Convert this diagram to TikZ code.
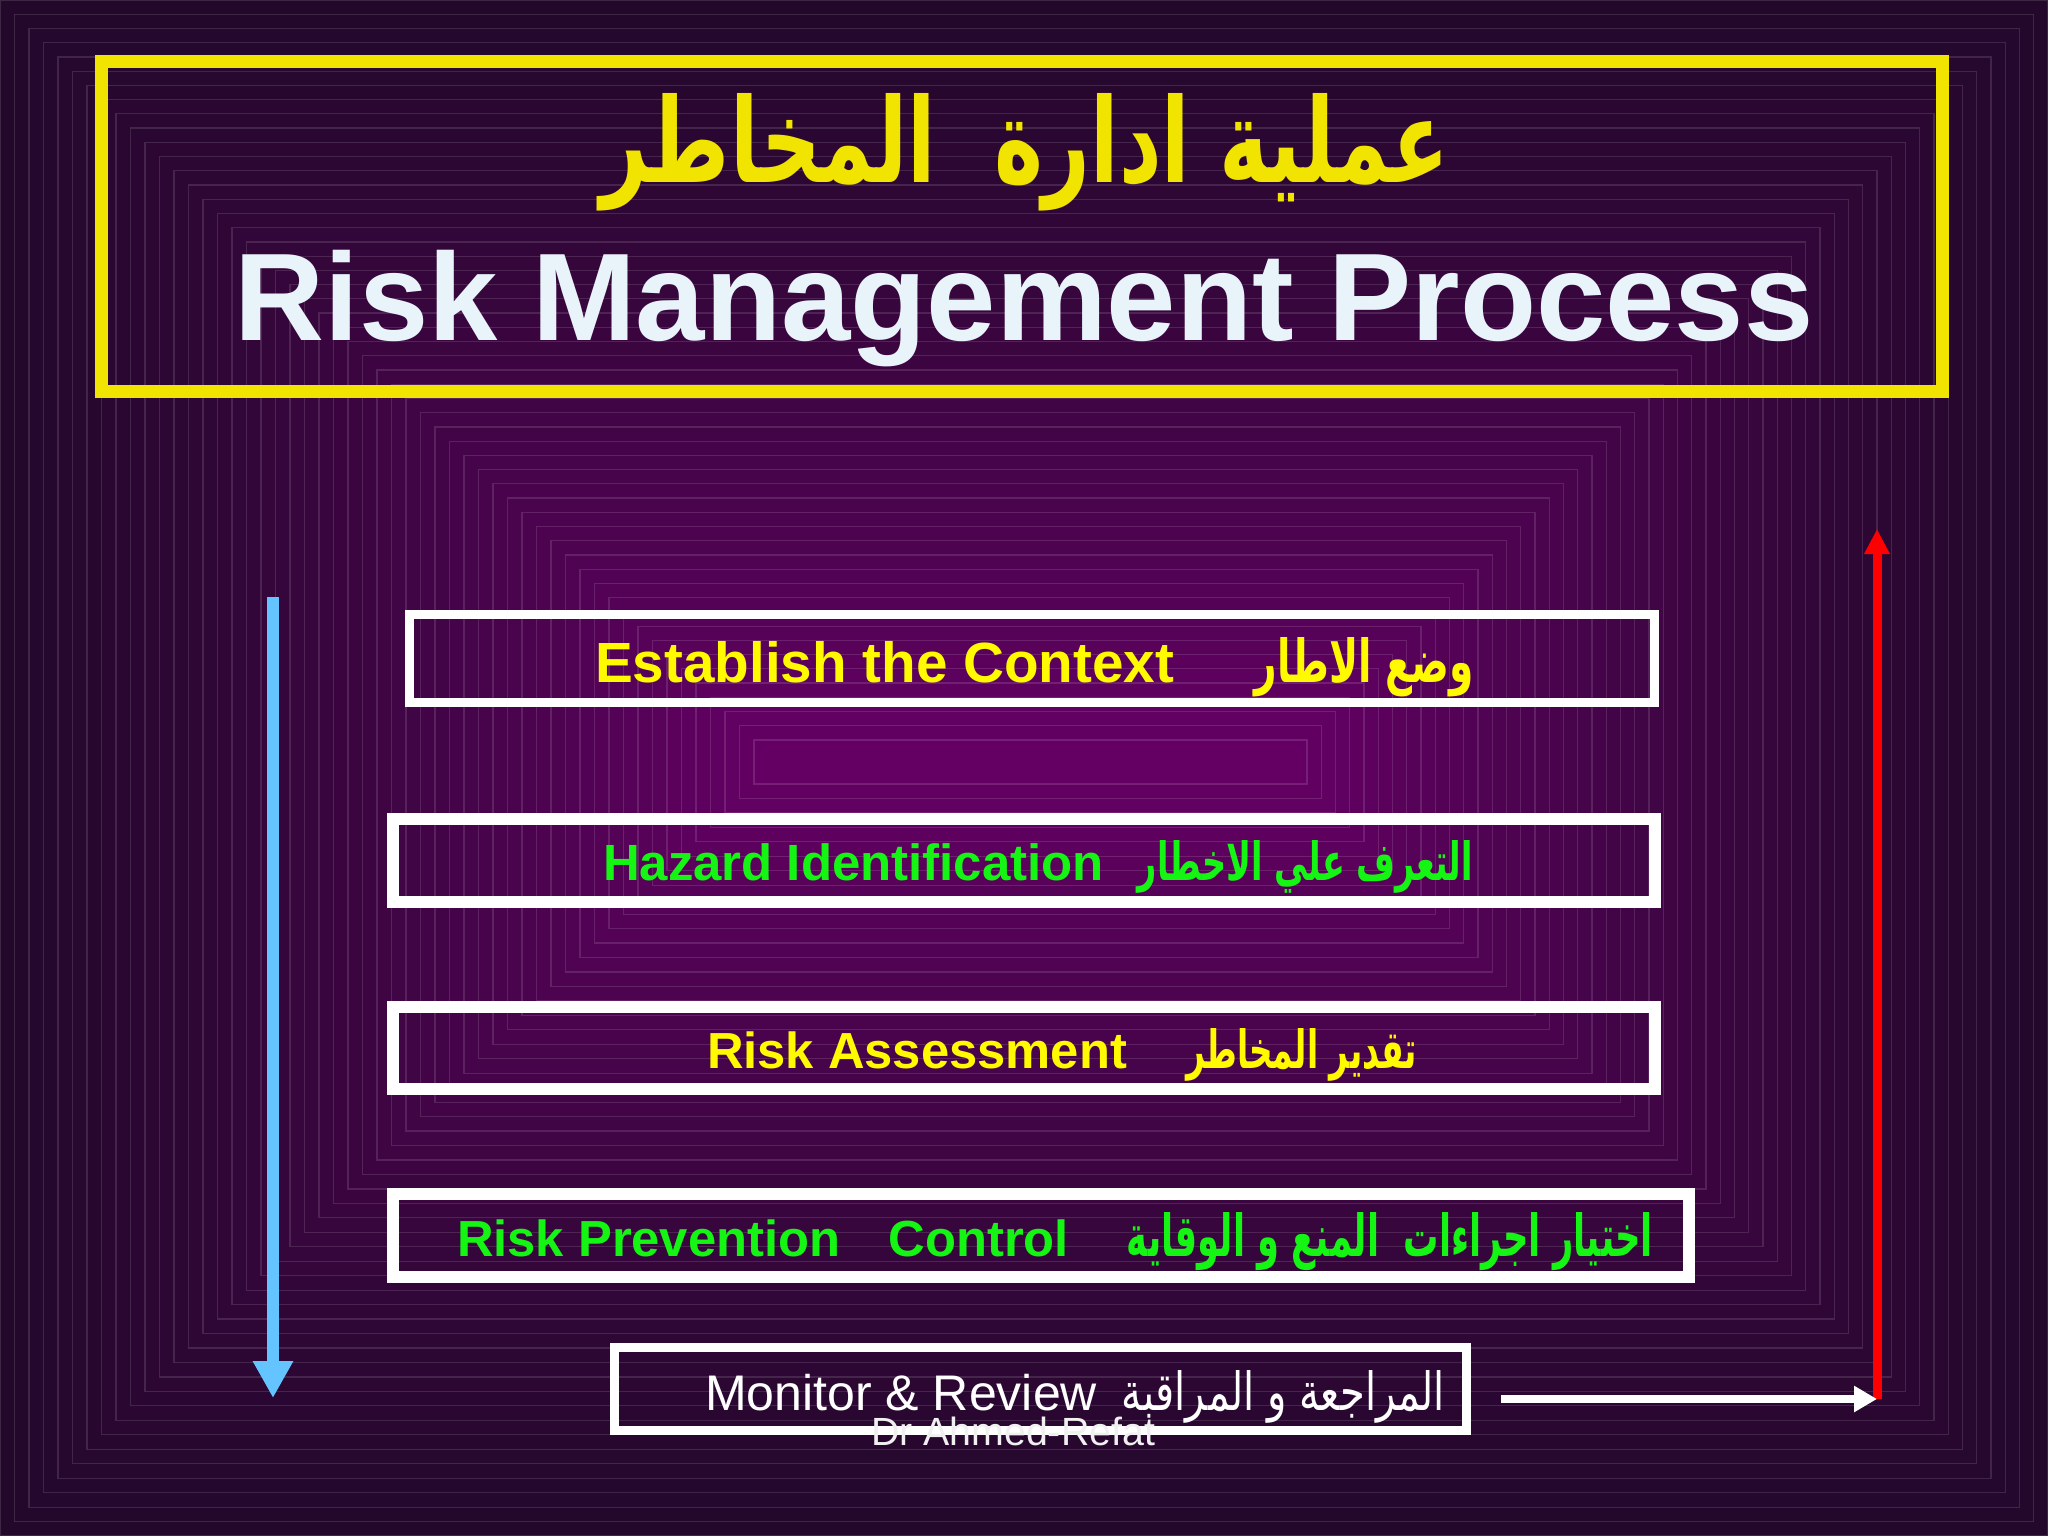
\documentclass[tikz,border=0pt]{standalone}
\usepackage{fontspec}
\usepackage{graphicx}
\setmainfont{Liberation Sans}
\newfontfamily\arabicfont[Script=Arabic]{DejaVu Sans}
\TeXXeTstate=1
\usetikzlibrary{arrows.meta}
\definecolor{bgout}{RGB}{36,8,44}
\definecolor{bgin}{RGB}{100,0,100}
\definecolor{titleyellow}{RGB}{240,228,0}
\definecolor{txtyellow}{RGB}{255,250,0}
\definecolor{txtgreen}{RGB}{20,245,20}
\definecolor{txtwhite}{RGB}{232,244,250}
\definecolor{arrowblue}{RGB}{100,196,255}
\definecolor{arrowred}{RGB}{255,0,0}
\tikzset{
  boxframe/.style={draw=white, rectangle, inner sep=0pt, outer sep=0pt},
  titleframe/.style={draw=titleyellow, rectangle, line width=13pt, inner sep=0pt, minimum width=1841pt, minimum height=330pt},
  txt/.style={anchor=base, inner sep=0pt, outer sep=0pt},
}
\begin{document}
\begin{tikzpicture}[x=1pt,y=-1pt]
\useasboundingbox (0,0) rectangle (2048,1536);
% background of concentric rectangles
\foreach \i in {0,...,52}{
  \pgfmathsetmacro\t{\i/52}
  \pgfmathsetmacro\tt{(\t)^1.3}
  \pgfmathsetmacro\xa{\t*754}
  \pgfmathsetmacro\ya{\t*740}
  \pgfmathsetmacro\xb{2048-\t*741}
  \pgfmathsetmacro\yb{1536-\t*752}
  \pgfmathtruncatemacro\p{100*\tt}
  \colorlet{cc}{bgin!\p!bgout}
  \fill[cc] (\xa,\ya) rectangle (\xb,\yb);
  \draw[white!12!cc, line width=1.2pt] (\xa,\ya) rectangle (\xb,\yb);
}
% title frame
\node[titleframe] (title) at (1022,226.5) {};
\node[txt, text=titleyellow] (titleAr) at (1025,182) {\resizebox{849pt}{89pt}{\arabicfont\bfseries\beginR عملية ادارة \ المخاطر\endR}};
\node[txt, text=txtwhite] (titleEn) at (1024,340) {\resizebox{1578pt}{!}{\bfseries Risk Management Process}};
% boxes
\node[boxframe, line width=9pt, minimum width=1245pt, minimum height=88pt] (b1) at (1032,658.5) {};
\node[boxframe, line width=12pt, minimum width=1262pt, minimum height=83pt] (b2) at (1024,860.5) {};
\node[boxframe, line width=12pt, minimum width=1262pt, minimum height=82pt] (b3) at (1024,1048) {};
\node[boxframe, line width=12pt, minimum width=1296pt, minimum height=83pt] (b4) at (1041,1235.5) {};
\node[boxframe, line width=9pt, minimum width=852pt, minimum height=83pt] (b5) at (1040.5,1389) {};
% box texts
\node[txt, anchor=base west, text=txtyellow] (t1en) at (595,682) {\resizebox{579pt}{!}{\bfseries Establish the Context}};
\node[txt, anchor=base east, text=txtyellow] (t1ar) at (1474,682) {\resizebox{219pt}{45pt}{\arabicfont\bfseries\beginR وضع الاطار\endR}};
\node[txt, anchor=base west, text=txtgreen] (t2en) at (603,880) {\resizebox{501pt}{!}{\bfseries Hazard Identification}};
\node[txt, anchor=base east, text=txtgreen] (t2ar) at (1473,880) {\resizebox{335pt}{40pt}{\arabicfont\bfseries\beginR التعرف علي الاخطار\endR}};
\node[txt, anchor=base west, text=txtyellow] (t3en) at (707,1068) {\resizebox{420pt}{!}{\bfseries Risk Assessment}};
\node[txt, anchor=base east, text=txtyellow] (t3ar) at (1417,1068) {\resizebox{231pt}{40pt}{\arabicfont\bfseries\beginR تقدير المخاطر\endR}};
\node[txt, anchor=base west, text=txtgreen] (t4en) at (457,1256) {\resizebox{612pt}{!}{\bfseries Risk Prevention\hspace{0.95em}Control}};
\node[txt, anchor=base east, text=txtgreen] (t4ar) at (1653,1256) {\resizebox{526pt}{44pt}{\arabicfont\bfseries\beginR اختيار اجراءات \ المنع و الوقاية\endR}};
\node[txt, anchor=base west, text=white] (t5en) at (705,1410) {\resizebox{392pt}{!}{Monitor \& Review}};
\node[txt, anchor=base east, text=white] (t5ar) at (1445,1410) {\resizebox{323pt}{40pt}{\arabicfont\beginR المراجعة و المراقبة\endR}};
\node[txt, anchor=base west, text=white!88!gray] (author) at (871,1445) {\resizebox{284pt}{!}{Dr Ahmed-Refat}};
% arrows
\coordinate (blueTop) at (273,597);
\coordinate (blueBot) at (273,1398);
\coordinate (whiteStart) at (1501,1399);
\coordinate (corner) at (1877,1399);
\coordinate (redTop) at (1877,529);
\draw[arrowblue, line width=12pt, -{Triangle[length=37pt 0,width=38pt 0]}] (blueTop) -- (blueBot);
\draw[arrowred, line width=9pt, -{Triangle[length=25pt 0,width=24pt 0]}] (corner) -- (redTop);
\draw[white, line width=8pt, -{Triangle[length=23pt 0,width=25pt 0]}] (whiteStart) -- (corner);
\end{tikzpicture}
\end{document}
